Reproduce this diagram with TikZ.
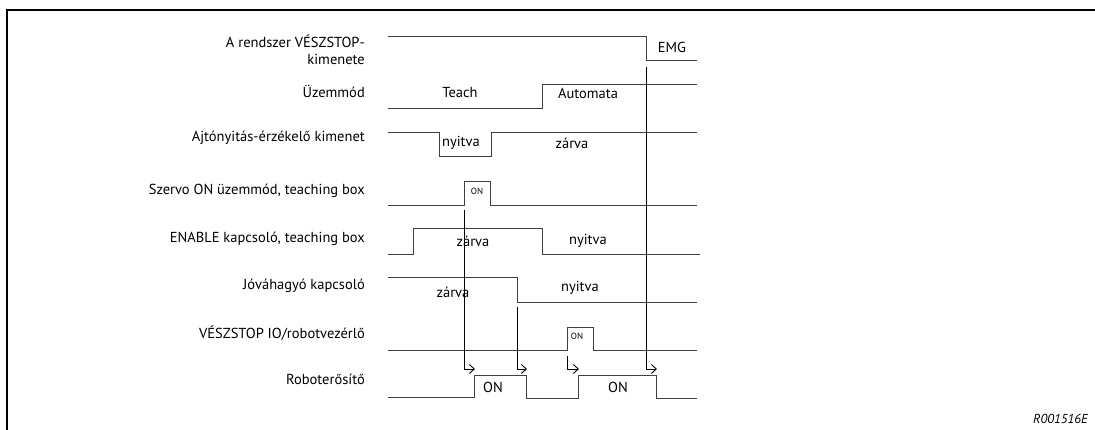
\documentclass[tikz,border=0pt]{standalone}
\usepackage{fontspec}
\setmainfont{PT Sans}
\usetikzlibrary{arrows.meta}
\begin{document}
\begin{tikzpicture}[x=1pt,y=-1pt,
      jel/.style={draw=black!75, line width=0.9pt},
      kapcs/.style={draw=black, line width=0.9pt},
      nyil/.style={kapcs, -{Straight Barb[length=5pt,width=9pt]}},
      nev/.style={font=\fontsize{14.5}{16.5}\selectfont, anchor=east, align=right, inner sep=0pt},
      allapot/.style={font=\fontsize{14.5}{16.5}\selectfont, inner sep=0pt},
      kicsi/.style={font=\fontsize{9}{10}\selectfont, inner sep=0pt}
    ]
    \useasboundingbox (0,0) rectangle (1095,430);
    % --- keret ---
    \draw[line width=2pt] (7,431) -- (7,10) -- (1096,10);

    % --- jelek nevei ---
    \node[nev] (nVesz) at (365,50) {A rendszer VÉSZSTOP-\\kimenete};
    \node[nev] (nMod) at (365,91) {Üzemmód};
    \node[nev] (nAjto) at (365,138) {Ajtónyitás-érzékelő kimenet};
    \node[nev] (nSzervo) at (365,191) {Szervo ON üzemmód, teaching box};
    \node[nev] (nEnable) at (365,239) {ENABLE kapcsoló, teaching box};
    \node[nev] (nJova) at (365,286) {Jóváhagyó kapcsoló};
    \node[nev] (nIO) at (365,333) {VÉSZSTOP IO/robotvezérlő};
    \node[nev] (nRobot) at (365,379) {Roboterősítő};

    % --- jelalakok ---
    \draw[jel] (388,36) -- (646,36) -- (646,60) -- (697,60);
    \draw[jel] (388,108) -- (542,108) -- (542,84) -- (697,84);
    \draw[jel] (388,132) -- (439,132) -- (439,156) -- (491,156) -- (491,132) -- (697,132);
    \draw[jel] (388,205) -- (464,205) -- (464,181) -- (490,181) -- (490,205) -- (697,205);
    \draw[jel] (388,254) -- (413,254) -- (413,228) -- (542,228) -- (542,254) -- (700,254);
    \draw[jel] (388,277) -- (517,277) -- (517,302) -- (697,302);
    \draw[jel] (388,350) -- (567,350) -- (567,327) -- (593,327) -- (593,350) -- (697,350);
    \draw[jel] (388,397) -- (474,397) -- (474,375) -- (526,375) -- (526,398)
      -- (578,398) -- (578,375) -- (656,375) -- (656,398) -- (697,398);

    % --- allapotok ---
    \node[allapot] (tEmg) at (672,47) {EMG};
    \node[allapot] (tTeach) at (460,93) {Teach};
    \node[allapot] (tAuto) at (588,93) {Automata};
    \node[allapot] (tNyit1) at (461,143) {nyitva};
    \node[allapot] (tZar1) at (572,143) {zárva};
    \node[kicsi] (tOn1) at (477,191) {ON};
    \node[allapot] (tZar2) at (473,241) {zárva};
    \node[allapot] (tNyit2) at (588,241) {nyitva};
    \node[allapot] (tZar3) at (453,292) {zárva};
    \node[allapot] (tNyit3) at (580,288) {nyitva};
    \node[kicsi] (tOn2) at (577,336) {ON};
    \node[allapot] (tOn3) at (493,387) {ON};
    \node[allapot] (tOn4) at (618,387) {ON};
    \node[font=\fontsize{13}{15}\selectfont\itshape, anchor=east, inner sep=0pt] (tKod) at (1088,419) {R001516E};

    % --- ok-okozat nyilak ---
    \coordinate (s1) at (464,210);  \coordinate (s1b) at (464,369);  \coordinate (r1) at (475,369);
    \coordinate (s2) at (517,307);  \coordinate (s2b) at (517,369);  \coordinate (r2) at (527,369);
    \coordinate (s3) at (567,356);  \coordinate (s3b) at (567,369);  \coordinate (r3) at (579,369);
    \coordinate (s4) at (646,67);   \coordinate (s4b) at (646,369);  \coordinate (r4) at (657,369);
    \foreach \i in {1,...,4}
      \draw[nyil] (s\i) -- (s\i b) -- (r\i);
  \end{tikzpicture}
\end{document}
